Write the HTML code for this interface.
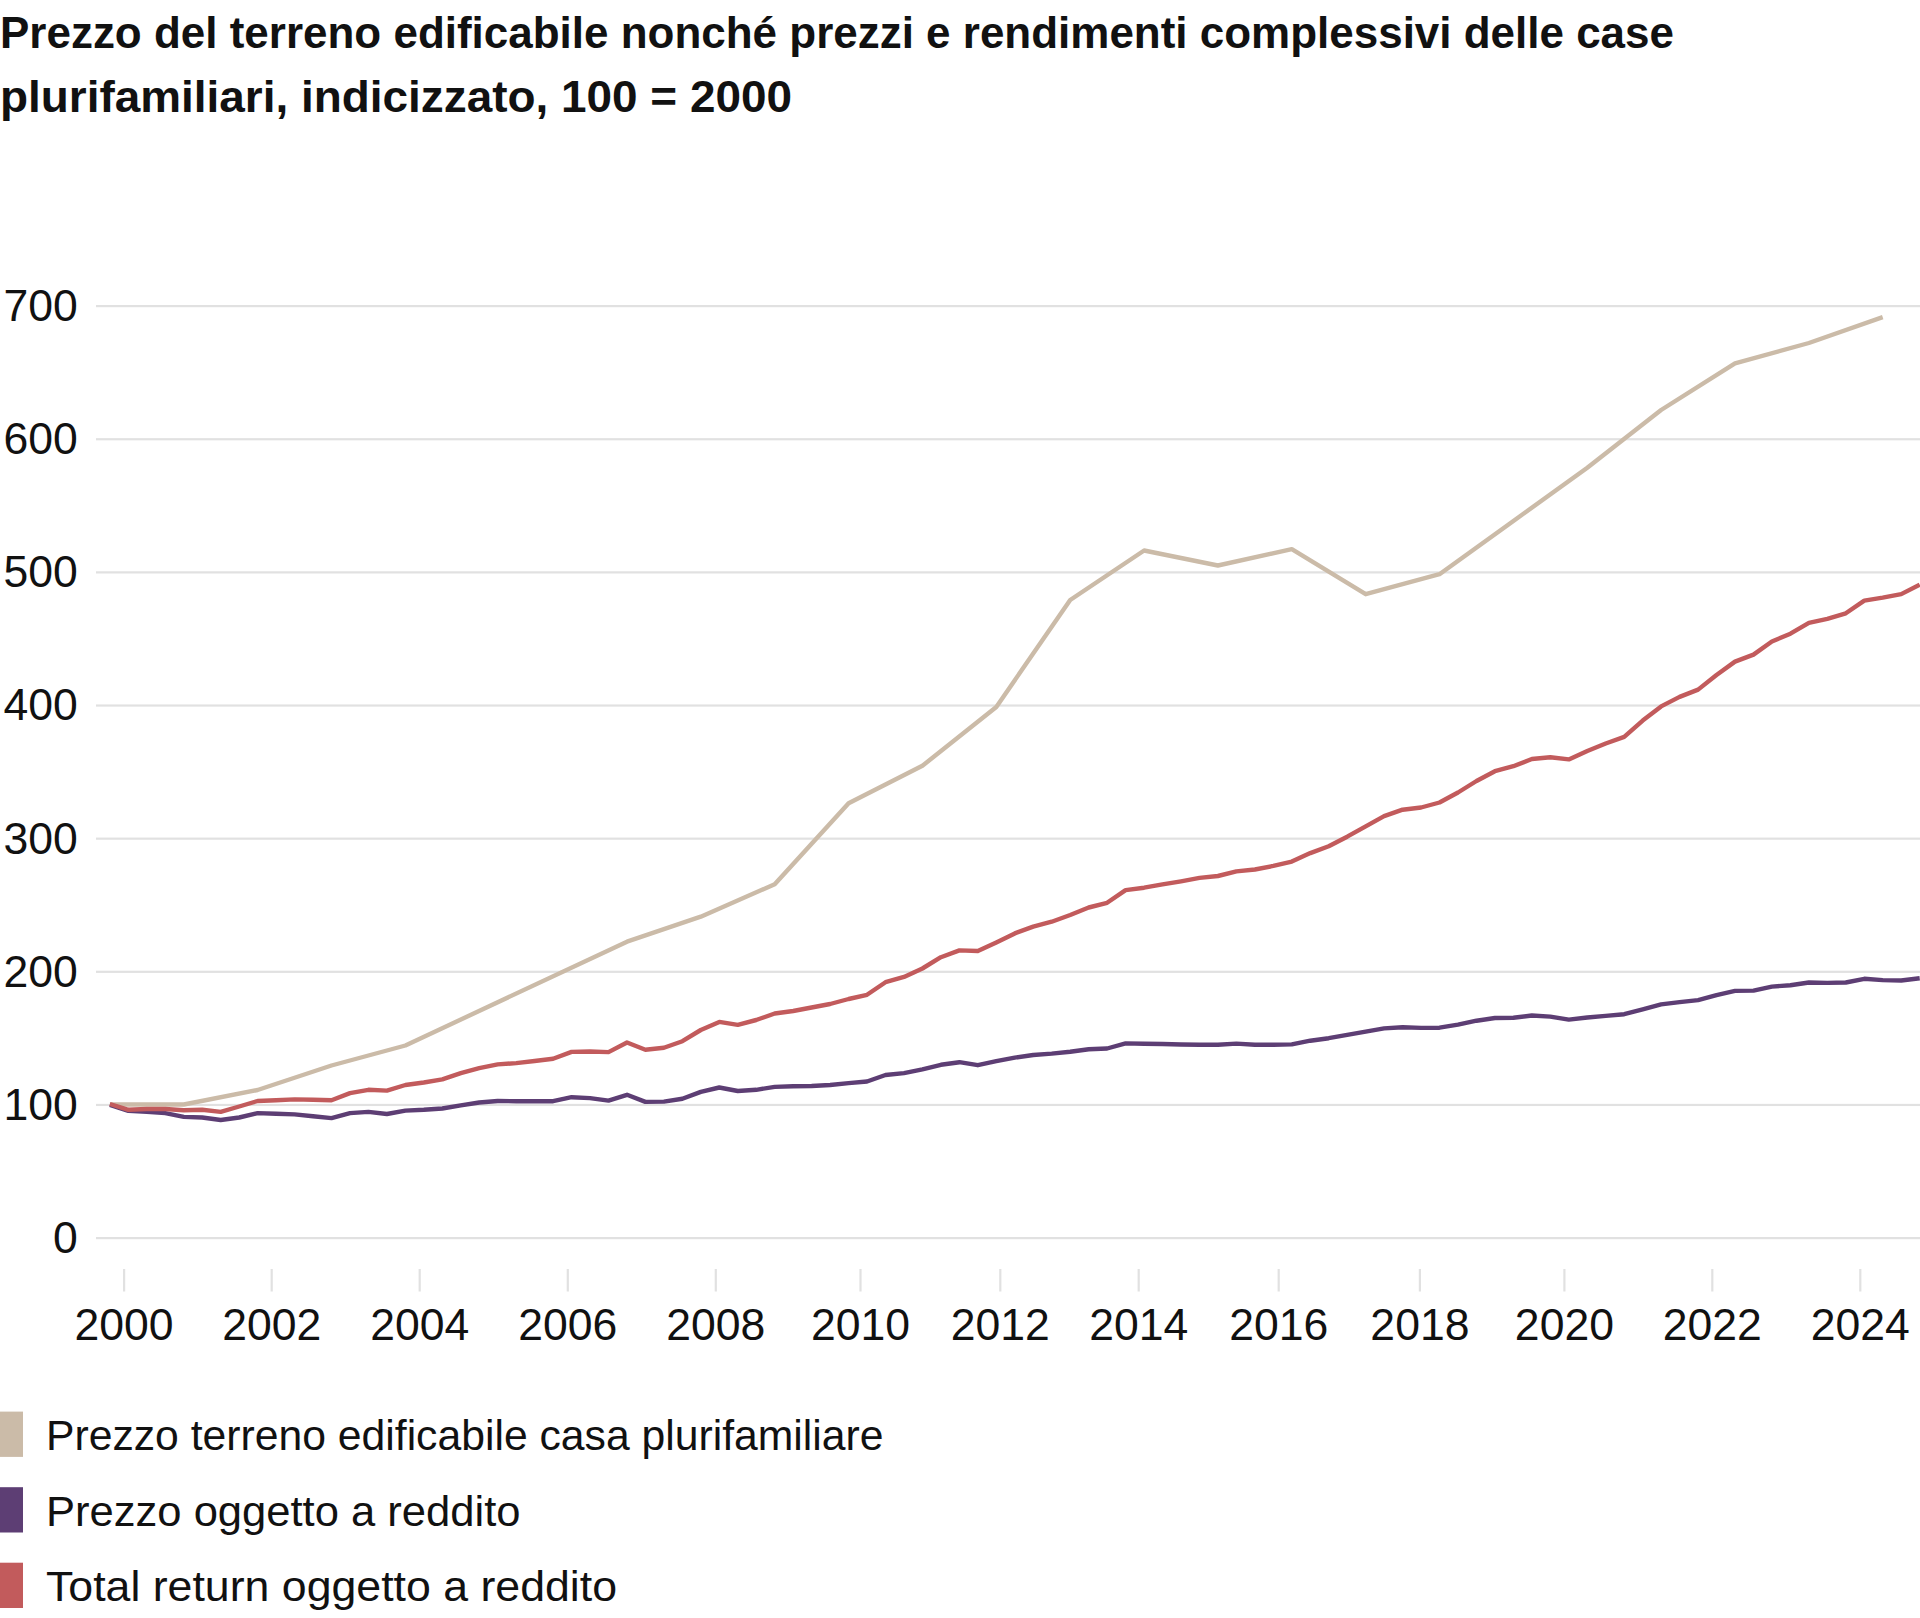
<!DOCTYPE html>
<html lang="it"><head><meta charset="utf-8"><title>Prezzo del terreno edificabile</title>
<style>
html,body{margin:0;padding:0;background:#fff;width:1920px;height:1618px;overflow:hidden}
svg{display:block}
text{font-family:"Liberation Sans",Arial,sans-serif;fill:#111111}
.tt{font-weight:bold;font-size:44px}
.ax{font-size:45px}
.lg{font-size:42px}
</style></head><body>
<svg width="1920" height="1618" viewBox="0 0 1920 1618">
<rect width="1920" height="1618" fill="#fff"/>

<text class="tt" x="0" y="48.1" textLength="1674" lengthAdjust="spacingAndGlyphs">Prezzo del terreno edificabile nonché prezzi e rendimenti complessivi delle case</text>
<text class="tt" x="0" y="112" textLength="792" lengthAdjust="spacingAndGlyphs">plurifamiliari, indicizzato, 100 = 2000</text>

<rect x="96" y="1237.00" width="1824" height="2.2" fill="#E1E1E1"/><text class="ax" transform="translate(77.8,1253.00) scale(0.99,1)" text-anchor="end">0</text><rect x="96" y="1103.86" width="1824" height="2.2" fill="#E1E1E1"/><text class="ax" transform="translate(77.8,1119.86) scale(0.99,1)" text-anchor="end">100</text><rect x="96" y="970.71" width="1824" height="2.2" fill="#E1E1E1"/><text class="ax" transform="translate(77.8,986.71) scale(0.99,1)" text-anchor="end">200</text><rect x="96" y="837.57" width="1824" height="2.2" fill="#E1E1E1"/><text class="ax" transform="translate(77.8,853.57) scale(0.99,1)" text-anchor="end">300</text><rect x="96" y="704.43" width="1824" height="2.2" fill="#E1E1E1"/><text class="ax" transform="translate(77.8,720.43) scale(0.99,1)" text-anchor="end">400</text><rect x="96" y="571.28" width="1824" height="2.2" fill="#E1E1E1"/><text class="ax" transform="translate(77.8,587.28) scale(0.99,1)" text-anchor="end">500</text><rect x="96" y="438.14" width="1824" height="2.2" fill="#E1E1E1"/><text class="ax" transform="translate(77.8,454.14) scale(0.99,1)" text-anchor="end">600</text><rect x="96" y="305.00" width="1824" height="2.2" fill="#E1E1E1"/><text class="ax" transform="translate(77.8,321.00) scale(0.99,1)" text-anchor="end">700</text><rect x="123.00" y="1269" width="2.2" height="22.5" fill="#E1E1E1"/><text class="ax" transform="translate(124.10,1340) scale(0.99,1)" text-anchor="middle">2000</text><rect x="270.60" y="1269" width="2.2" height="22.5" fill="#E1E1E1"/><text class="ax" transform="translate(271.70,1340) scale(0.99,1)" text-anchor="middle">2002</text><rect x="418.60" y="1269" width="2.2" height="22.5" fill="#E1E1E1"/><text class="ax" transform="translate(419.70,1340) scale(0.99,1)" text-anchor="middle">2004</text><rect x="566.70" y="1269" width="2.2" height="22.5" fill="#E1E1E1"/><text class="ax" transform="translate(567.80,1340) scale(0.99,1)" text-anchor="middle">2006</text><rect x="714.70" y="1269" width="2.2" height="22.5" fill="#E1E1E1"/><text class="ax" transform="translate(715.80,1340) scale(0.99,1)" text-anchor="middle">2008</text><rect x="859.40" y="1269" width="2.2" height="22.5" fill="#E1E1E1"/><text class="ax" transform="translate(860.50,1340) scale(0.99,1)" text-anchor="middle">2010</text><rect x="999.20" y="1269" width="2.2" height="22.5" fill="#E1E1E1"/><text class="ax" transform="translate(1000.30,1340) scale(0.99,1)" text-anchor="middle">2012</text><rect x="1137.60" y="1269" width="2.2" height="22.5" fill="#E1E1E1"/><text class="ax" transform="translate(1138.70,1340) scale(0.99,1)" text-anchor="middle">2014</text><rect x="1277.60" y="1269" width="2.2" height="22.5" fill="#E1E1E1"/><text class="ax" transform="translate(1278.70,1340) scale(0.99,1)" text-anchor="middle">2016</text><rect x="1418.80" y="1269" width="2.2" height="22.5" fill="#E1E1E1"/><text class="ax" transform="translate(1419.90,1340) scale(0.99,1)" text-anchor="middle">2018</text><rect x="1563.30" y="1269" width="2.2" height="22.5" fill="#E1E1E1"/><text class="ax" transform="translate(1564.40,1340) scale(0.99,1)" text-anchor="middle">2020</text><rect x="1711.20" y="1269" width="2.2" height="22.5" fill="#E1E1E1"/><text class="ax" transform="translate(1712.30,1340) scale(0.99,1)" text-anchor="middle">2022</text><rect x="1859.20" y="1269" width="2.2" height="22.5" fill="#E1E1E1"/><text class="ax" transform="translate(1860.30,1340) scale(0.99,1)" text-anchor="middle">2024</text>

<path d="M109.9,1104.5 L183.8,1104.5 L257.6,1090.0 L331.5,1065.5 L405.4,1045.5 L627.0,941.7 L700.8,916.7 L774.7,884.2 L848.6,803.3 L922.4,765.8 L996.3,707.0 L1070.2,600.0 L1144.1,550.5 L1217.9,565.5 L1291.8,549.2 L1365.7,594.2 L1439.5,574.2 L1513.4,521.0 L1587.3,467.7 L1661.1,410.0 L1735.0,363.3 L1808.9,343.0 L1882.7,317.2" fill="none" stroke="#CBBBA8" stroke-width="4.4" stroke-linejoin="round" stroke-linecap="butt"/>
<path d="M109.9,1104.8 L128.4,1110.9 L146.8,1111.9 L165.3,1113.1 L183.8,1116.9 L202.2,1117.5 L220.7,1120.0 L239.2,1117.5 L257.6,1113.1 L276.1,1113.8 L294.6,1114.4 L313.0,1116.2 L331.5,1118.1 L350.0,1113.1 L368.4,1111.9 L386.9,1114.0 L405.4,1110.6 L423.8,1109.8 L442.3,1108.5 L460.8,1105.4 L479.2,1102.5 L497.7,1101.0 L516.2,1101.2 L534.6,1101.2 L553.1,1101.2 L571.6,1097.2 L590.0,1098.1 L608.5,1100.6 L627.0,1094.8 L645.4,1101.9 L663.9,1101.6 L682.4,1098.8 L700.8,1091.9 L719.3,1087.5 L737.8,1091.0 L756.2,1089.8 L774.7,1086.9 L793.2,1086.2 L811.6,1086.0 L830.1,1085.0 L848.6,1083.1 L867.0,1081.5 L885.5,1075.0 L904.0,1073.1 L922.4,1069.4 L940.9,1064.8 L959.4,1062.2 L977.8,1065.2 L996.3,1061.2 L1014.8,1057.6 L1033.2,1055.0 L1051.7,1053.6 L1070.2,1051.7 L1088.7,1049.2 L1107.1,1048.5 L1125.6,1043.4 L1144.1,1043.8 L1162.5,1044.0 L1181.0,1044.5 L1199.5,1044.7 L1217.9,1044.8 L1236.4,1043.6 L1254.9,1044.8 L1273.3,1044.8 L1291.8,1044.4 L1310.3,1040.7 L1328.7,1038.2 L1347.2,1034.9 L1365.7,1031.6 L1384.1,1028.4 L1402.6,1027.2 L1421.1,1027.9 L1439.5,1027.7 L1458.0,1024.7 L1476.5,1020.7 L1494.9,1018.0 L1513.4,1017.8 L1531.9,1015.5 L1550.3,1016.6 L1568.8,1019.6 L1587.3,1017.5 L1605.7,1015.9 L1624.2,1014.2 L1642.7,1009.4 L1661.1,1004.4 L1679.6,1002.1 L1698.1,1000.1 L1716.5,995.1 L1735.0,990.9 L1753.5,990.6 L1771.9,986.6 L1790.4,985.2 L1808.9,982.5 L1827.3,982.9 L1845.8,982.5 L1864.3,978.8 L1882.7,980.1 L1901.2,980.5 L1919.7,978.2" fill="none" stroke="#5D3E74" stroke-width="4.4" stroke-linejoin="round" stroke-linecap="butt"/>
<path d="M109.9,1104.0 L128.4,1109.8 L146.8,1109.0 L165.3,1109.0 L183.8,1110.2 L202.2,1109.8 L220.7,1111.9 L239.2,1106.5 L257.6,1101.0 L276.1,1100.2 L294.6,1099.4 L313.0,1099.8 L331.5,1100.2 L350.0,1093.1 L368.4,1089.8 L386.9,1090.6 L405.4,1085.0 L423.8,1082.5 L442.3,1079.4 L460.8,1073.1 L479.2,1068.1 L497.7,1064.4 L516.2,1063.1 L534.6,1061.0 L553.1,1058.8 L571.6,1051.9 L590.0,1051.5 L608.5,1052.1 L627.0,1042.5 L645.4,1049.8 L663.9,1047.8 L682.4,1041.2 L700.8,1030.0 L719.3,1021.9 L737.8,1024.8 L756.2,1020.0 L774.7,1013.5 L793.2,1011.0 L811.6,1007.5 L830.1,1004.0 L848.6,999.0 L867.0,994.8 L885.5,982.2 L904.0,976.9 L922.4,968.5 L940.9,957.2 L959.4,950.4 L977.8,951.0 L996.3,942.4 L1014.8,933.4 L1033.2,926.6 L1051.7,921.7 L1070.2,915.0 L1088.7,907.5 L1107.1,902.8 L1125.6,890.1 L1144.1,887.7 L1162.5,884.4 L1181.0,881.3 L1199.5,877.9 L1217.9,876.0 L1236.4,871.4 L1254.9,869.5 L1273.3,865.9 L1291.8,861.6 L1310.3,853.1 L1328.7,846.2 L1347.2,836.7 L1365.7,826.4 L1384.1,816.2 L1402.6,809.7 L1421.1,807.5 L1439.5,802.5 L1458.0,792.5 L1476.5,781.0 L1494.9,771.2 L1513.4,766.2 L1531.9,759.0 L1550.3,757.2 L1568.8,759.4 L1587.3,751.0 L1605.7,743.5 L1624.2,736.9 L1642.7,720.6 L1661.1,706.4 L1679.6,696.9 L1698.1,689.6 L1716.5,675.0 L1735.0,661.6 L1753.5,654.6 L1771.9,641.5 L1790.4,633.7 L1808.9,622.8 L1827.3,618.9 L1845.8,613.3 L1864.3,600.6 L1882.7,597.7 L1901.2,594.1 L1919.7,584.6" fill="none" stroke="#C25B5C" stroke-width="4.4" stroke-linejoin="round" stroke-linecap="butt"/>


<rect x="0" y="1411.6" width="23" height="45.3" fill="#CBBBA8"/>
<rect x="0" y="1487.2" width="23" height="45.3" fill="#5D3E74"/>
<rect x="0" y="1562.7" width="23" height="45.3" fill="#C25B5C"/>
<text class="lg" x="46" y="1450.2" textLength="837.5" lengthAdjust="spacingAndGlyphs">Prezzo terreno edificabile casa plurifamiliare</text>
<text class="lg" x="46" y="1525.6" textLength="474.5" lengthAdjust="spacingAndGlyphs">Prezzo oggetto a reddito</text>
<text class="lg" x="46" y="1601.2" textLength="571" lengthAdjust="spacingAndGlyphs">Total return oggetto a reddito</text>

</svg>
</body></html>
